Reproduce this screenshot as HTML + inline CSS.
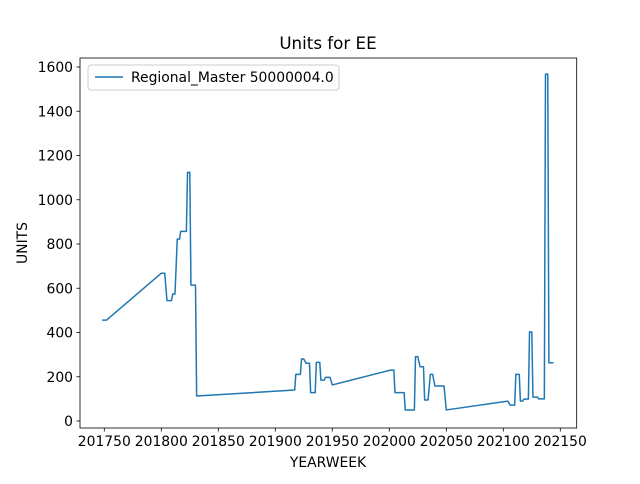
<!DOCTYPE html>
<html><head><meta charset="utf-8"><style>
body{margin:0;background:#fff;font-family:"DejaVu Sans","Liberation Sans",sans-serif}
svg text{font-family:"DejaVu Sans","Liberation Sans",sans-serif}
</style></head><body>
<svg id="chart" width="640" height="480" xmlns="http://www.w3.org/2000/svg">
<rect width="640" height="480" fill="#fff"/>
<text x="328" y="49" font-size="16.7" text-anchor="middle">Units for EE</text>
<g id="axes"></g>
<text x="328" y="467" font-size="13.9" text-anchor="middle">YEARWEEK</text>
<text transform="translate(27,243) rotate(-90)" font-size="13.9" text-anchor="middle">UNITS</text>
<g>
<rect x="88" y="65" width="251" height="25" rx="3" fill="#fff" stroke="#ccc"/>
<line x1="95" y1="77" x2="123" y2="77" stroke="#1f77b4" stroke-width="1.5"/>
<text x="131" y="82" font-size="13.9">Regional_Master 50000004.0</text>
</g>
</svg>
<script>
const weeks=[201748,201752,201800,201803,201805,201809,201810,201812,201814,201816,201817,201822,201823,201825,201826,201830,201831,201917,201918,201922,201923,201925,201927,201930,201931,201935,201936,201939,201940,201943,201944,201948,201950,202001,202004,202005,202013,202014,202022,202023,202025,202027,202030,202031,202034,202036,202038,202040,202048,202050,202104,202106,202110,202111,202114,202115,202117,202118,202122,202123,202125,202126,202130,202131,202136,202137,202139,202140,202144];
const units=[456,456,668,668,544,544,574,574,822,822,857,857,1124,1124,614,614,113,140,211,211,280,280,261,261,128,128,265,265,185,185,197,197,163,230,230,128,128,50,50,291,291,245,245,95,95,211,211,158,158,50,90,72,72,211,211,90,90,99,99,403,403,108,108,100,100,1568,1568,263,263];
const xTicks=[201750,201800,201850,201900,201950,202000,202050,202100,202150];
const yTicks=[0,200,400,600,800,1000,1200,1400,1600];
const L=80,R=576.7,T=58,B=428;
const xs=v=>104.3+(v-201750)*1.14;
const ys=v=>421-v*(354/1600);
const NS="http://www.w3.org/2000/svg";
const g=document.getElementById('axes');
function mk(t,a){const e=document.createElementNS(NS,t);for(const k in a)e.setAttribute(k,a[k]);g.appendChild(e);return e;}
xTicks.forEach(v=>{
 const x=xs(v);
 const t=mk('line',{x1:x,y1:B,x2:x,y2:B+3.5,stroke:'#000','stroke-width':0.8});
 
 
 const l=mk('text',{x:x,y:B+18,'font-size':13.9,'text-anchor':'middle'});l.textContent=v;
 
 
});
yTicks.forEach(v=>{
 const y=ys(v);
 const t=mk('line',{x1:L-3.5,y1:y,x2:L,y2:y,stroke:'#000','stroke-width':0.8});
 
 
 const l=mk('text',{x:L-7,y:y+5,'font-size':13.9,'text-anchor':'end'});l.textContent=v;
 
 
});
const p=mk('polyline',{points:weeks.map((w,i)=>xs(w)+','+ys(units[i])).join(' '),fill:'none',stroke:'#1f77b4','stroke-width':1.5,'stroke-linejoin':'round'});


const f=mk('rect',{x:L,y:T,width:R-L,height:B-T,fill:'none',stroke:'#000','stroke-width':0.8});


</script>
</body></html>
